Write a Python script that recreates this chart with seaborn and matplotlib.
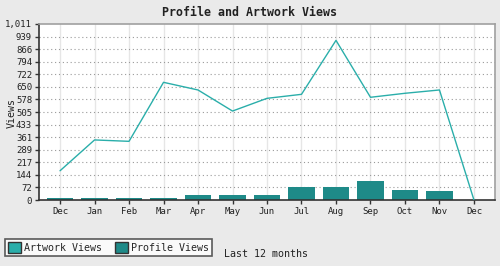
import matplotlib
matplotlib.use("Agg")
import matplotlib.pyplot as plt
import seaborn as sns
import pandas as pd
import numpy as np
from matplotlib.patches import Patch

months = ["Dec", "Jan", "Feb", "Mar", "Apr", "May", "Jun", "Jul", "Aug", "Sep", "Oct", "Nov", "Dec"]
artwork_views = [168, 345, 337, 676, 632, 511, 584, 607, 917, 590, 613, 632, 0]
profile_views = [10, 10, 10, 14, 31, 27, 31, 73, 73, 107, 56, 50, 0]
yticks = [0, 72, 144, 217, 289, 361, 433, 505, 578, 650, 722, 794, 866, 939, 1011]

sns.set_theme(style="white")
plt.rcParams['font.family'] = ['DejaVu Sans Mono']

bar_color = "#1E8A88"
line_color = "#2AAEAA"

df = pd.DataFrame({"pos": np.arange(len(months)), "month": months,
                   "artwork": artwork_views, "profile": profile_views})

fig = plt.figure(figsize=(5, 2.66), dpi=100, facecolor="#EAEAEA")
ax = fig.add_axes([39/500, 1-200/266, (495-39)/500, (200-24)/266])
ax.set_facecolor("white")

sns.barplot(data=df, x="pos", y="profile", color=bar_color, width=0.78,
            linewidth=0, saturation=1, ax=ax, native_scale=True, zorder=2)
sns.lineplot(data=df, x="pos", y="artwork", color=line_color, linewidth=1, ax=ax, zorder=3)

ax.set_xlim(-0.61, len(months) - 1 + 0.61)
ax.set_ylim(0, 1011)
ax.set_xticks(df["pos"])
ax.set_xticklabels(months, fontsize=6.5)
ax.set_yticks(yticks)
ax.set_yticklabels([f"{v:,}" for v in yticks], fontsize=6.5)
ax.tick_params(axis="both", length=3, width=1, color="#333333", pad=2, labelcolor="#222222")
ax.tick_params(axis="x", bottom=True)
ax.tick_params(axis="y", left=True)

for x in df["pos"]:
    ax.axvline(x, color="#E6E6E6", linewidth=1, zorder=0)
for y in yticks[1:-1]:
    ax.axhline(y, color="#9A9A9A", linewidth=0.8, linestyle=(0, (1, 2.5)), zorder=0.5)

ax.spines["left"].set_color("#333333")
ax.spines["bottom"].set_color("#333333")
ax.spines["top"].set_color("#A0A0A0")
ax.spines["right"].set_color("#A0A0A0")
for s in ax.spines.values():
    s.set_linewidth(1.2)

ax.set_xlabel("")
ax.set_ylabel("")
fig.text(12/500, 1-113/266, "Views", rotation=90, ha="center", va="center",
         fontsize=7.2, color="#222222")

fig.text(0.5, 1-12/266, "Profile and Artwork Views", ha="center", va="center",
         fontsize=8.4, fontweight="bold", color="#222222")
fig.text(224/500, 1-254/266, "Last 12 months", ha="left", va="center", fontsize=7.2, color="#222222")

handles = [Patch(facecolor=line_color, edgecolor="#333333", label="Artwork Views"),
           Patch(facecolor=bar_color, edgecolor="#333333", label="Profile Views")]
leg = fig.legend(handles=handles, loc="lower left", bbox_to_anchor=(5/500, 1-256/266),
                 ncol=2, frameon=True, fancybox=False, fontsize=7.2, handlelength=1.3,
                 handleheight=1.3, handletextpad=0.3, columnspacing=1.3, borderpad=0.3,
                 borderaxespad=0)
leg.get_frame().set_edgecolor("#333333")
leg.get_frame().set_linewidth(1.2)
leg.get_frame().set_facecolor("white")

fig.savefig("out.png", dpi=100, facecolor=fig.get_facecolor())
